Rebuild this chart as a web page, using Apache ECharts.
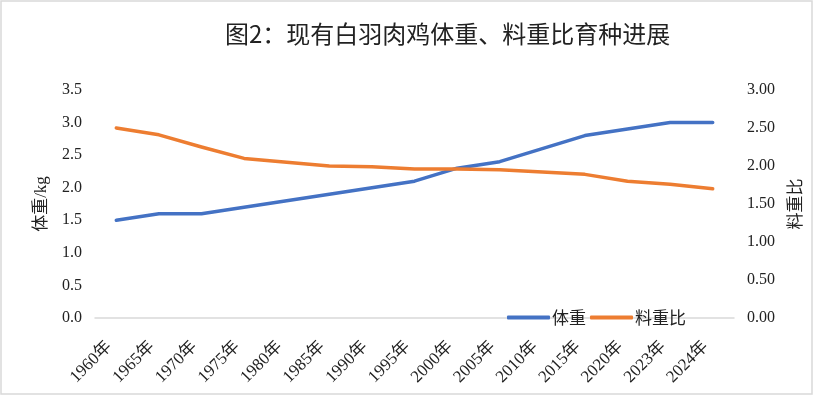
<!DOCTYPE html>
<html>
<head>
<meta charset="utf-8">
<script src="https://cdn.jsdelivr.net/npm/echarts@6/dist/echarts.min.js"></script>
<style>
  html, body { margin: 0; padding: 0; background: #fff; }
  #chart { width: 815px; height: 396px; }
</style>
</head>
<body>
<div id="chart"></div>
<script>
// chart data
const years = ['1960年', '1965年', '1970年', '1975年', '1980年', '1985年', '1990年', '1995年',
  '2000年', '2005年', '2010年', '2015年', '2020年', '2023年', '2024年'];
const bodyWeight = [1.5, 1.6, 1.6, 1.7, 1.8, 1.9, 2.0, 2.1, 2.3, 2.4, 2.6, 2.8, 2.9, 3.0, 3.0];
const feedRatio = [2.5, 2.41, 2.25, 2.1, 2.05, 2.0, 1.99, 1.96, 1.96, 1.95, 1.92, 1.89, 1.8, 1.76, 1.7];
const seriesNames = ['体重', '料重比'];

const serif = '"Liberation Serif", "Times New Roman", "Noto Sans CJK SC", serif';
const cjk = '"Noto Sans CJK SC", sans-serif';

const chart = echarts.init(document.getElementById('chart'));

chart.setOption({
  animation: false,
  backgroundColor: '#fff',
  title: {
    text: '图2：现有白羽肉鸡体重、料重比育种进展',
    left: 220,
    top: 17,
    textStyle: { fontFamily: cjk, fontSize: 24, fontWeight: 'normal', color: '#222' }
  },
  graphic: [{
    type: 'rect',
    shape: { x: 1, y: 1, width: 811, height: 393 },
    style: { fill: 'none', stroke: '#d9d9d9', lineWidth: 1.5 },
    silent: true
  }],
  legend: {
    data: seriesNames,
    left: 507,
    top: 309,
    padding: 0,
    icon: 'roundRect',
    itemWidth: 43,
    itemHeight: 4,
    itemGap: 4,
    textStyle: { fontFamily: cjk, fontSize: 17, color: '#222', padding: [0, 0, 0, -3] }
  },
  grid: { left: 95, right: 81, top: 90, bottom: 78 },
  xAxis: {
    type: 'category',
    data: years,
    boundaryGap: true,
    axisLine: { lineStyle: { color: '#d9d9d9', width: 1.5 } },
    axisTick: { show: false },
    axisLabel: {
      interval: 0,
      rotate: 45,
      margin: 19,
      padding: [0, 10, 0, 0],
      fontFamily: serif,
      fontSize: 17,
      color: '#222'
    }
  },
  yAxis: [{
    type: 'value',
    min: 0,
    max: 3.5,
    interval: 0.5,
    name: '体重/kg',
    nameLocation: 'middle',
    nameRotate: 90,
    nameGap: 45,
    nameTextStyle: { fontFamily: serif, fontSize: 17, color: '#222' },
    axisLine: { show: false },
    axisTick: { show: false },
    splitLine: { show: false },
    axisLabel: {
      margin: 13,
      fontFamily: serif,
      fontSize: 16,
      color: '#222',
      formatter: v => v.toFixed(1)
    }
  }, {
    type: 'value',
    min: 0,
    max: 3,
    interval: 0.5,
    name: '料重比',
    nameLocation: 'middle',
    nameRotate: 90,
    nameGap: 52,
    nameTextStyle: { fontFamily: cjk, fontSize: 17, color: '#222' },
    axisLine: { show: false },
    axisTick: { show: false },
    splitLine: { show: false },
    axisLabel: {
      margin: 13,
      fontFamily: serif,
      fontSize: 16,
      color: '#222',
      formatter: v => v.toFixed(2)
    }
  }],
  series: [{
    name: seriesNames[0],
    type: 'line',
    yAxisIndex: 0,
    data: bodyWeight,
    showSymbol: false,
    symbol: 'none',
    color: '#4472C4',
    lineStyle: { width: 3.5, cap: 'round', join: 'round' }
  }, {
    name: seriesNames[1],
    type: 'line',
    yAxisIndex: 1,
    data: feedRatio,
    showSymbol: false,
    symbol: 'none',
    color: '#ED7D31',
    lineStyle: { width: 3.5, cap: 'round', join: 'round' }
  }]
});
</script>
</body>
</html>
